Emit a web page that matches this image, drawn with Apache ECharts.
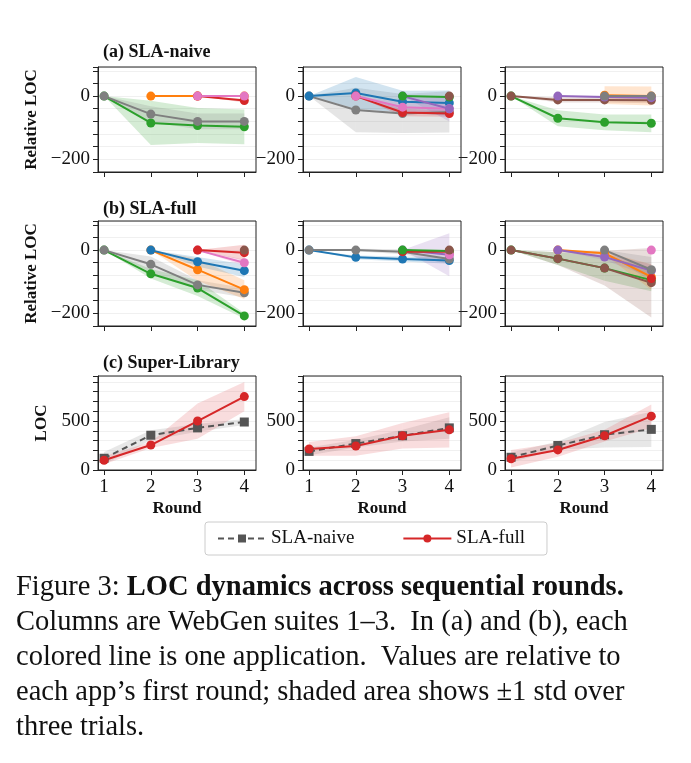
<!DOCTYPE html>
<html><head><meta charset="utf-8">
<script src="https://cdn.jsdelivr.net/npm/echarts@6/dist/echarts.min.js"></script>
<style>html,body{margin:0;padding:0;background:#fff}#c{width:691px;height:763px}</style>
</head><body><div id="c"></div>
<script>
const rounds = [1, 2, 3, 4];
const colors = {blue:'#1f77b4',orange:'#ff7f0e',green:'#2ca02c',red:'#d62728',purple:'#9467bd',brown:'#8c564b',pink:'#e377c2',gray:'#7f7f7f'};
const relTicks = [0, -200];
const locTicks = [0, 500];
// [color, means, sds]  (null = app not present yet)
const a1 = [
 ['green',[0,-85,-93,-97],[0,70,55,55]],
 ['gray',[0,-57,-80,-80],[0,25,25,25]],
 ['orange',[null,0,0,0],[null,0,0,0]],
 ['red',[null,null,0,-14],[null,null,0,6]],
 ['pink',[null,null,0,0],[null,null,0,0]]];
const a2 = [
 ['gray',[0,-44,-55,-50],[0,70,62,65]],
 ['blue',[0,10,-18,-22],[0,50,35,40]],
 ['red',[null,0,-52,-55],[null,0,12,10]],
 ['pink',[null,0,-35,-40],[null,0,15,15]],
 ['purple',[null,null,0,-40],[null,null,0,40]],
 ['green',[null,null,0,-3],[null,null,0,3]],
 ['brown',[null,null,null,0],[null,null,null,0]]];
const a3 = [
 ['green',[0,-70,-83,-86],[0,25,25,28]],
 ['brown',[0,-12,-12,-13],[0,8,8,10]],
 ['orange',[null,null,3,0],[null,null,28,30]],
 ['purple',[null,0,-3,-5],[null,0,4,4]],
 ['gray',[null,null,0,0],[null,null,0,0]]];
const b1 = [
 ['green',[0,-75,-120,-208],[0,15,25,8]],
 ['gray',[0,-45,-110,-135],[0,25,15,15]],
 ['orange',[null,0,-62,-125],[null,0,35,30]],
 ['blue',[null,0,-37,-65],[null,0,15,20]],
 ['pink',[null,null,0,-40],[null,null,0,10]],
 ['red',[null,null,0,-8],[null,null,0,25]],
 ['brown',[null,null,null,0],[null,null,null,0]]];
const b2 = [
 ['blue',[0,-23,-28,-33],[0,6,8,10]],
 ['gray',[0,0,-5,-28],[0,4,8,15]],
 ['purple',[null,null,0,-15],[null,null,0,68]],
 ['red',[null,null,-5,-5],[null,null,4,5]],
 ['green',[null,null,0,-3],[null,null,0,3]],
 ['pink',[null,null,null,-15],[null,null,null,8]],
 ['brown',[null,null,null,0],[null,null,null,0]]];
const b3 = [
 ['green',[0,-27,-57,-95],[0,20,40,35]],
 ['brown',[0,-27,-57,-103],[0,20,55,110]],
 ['orange',[null,0,-10,-85],[null,0,5,40]],
 ['purple',[null,0,-22,-65],[null,0,10,20]],
 ['red',[null,null,null,-90],[null,null,null,15]],
 ['gray',[null,null,0,-62],[null,null,0,40]],
 ['pink',[null,null,null,0],[null,null,null,0]]];
const c1 = [['naive',[120,355,430,490],[65,50,40,30]],['full',[100,255,500,750],[40,30,180,150]]];
const c2 = [['naive',[190,270,350,430],[40,40,60,110]],['full',[215,245,350,410],[70,100,130,180]]];
const c3 = [['naive',[130,250,360,415],[50,40,130,180]],['full',[115,205,350,550],[90,70,60,120]]];
const panels = [a1,a2,a3,b1,b2,b3,c1,c2,c3];

const colLeft = [98, 303, 505];
const rowTop = [67, 221, 376];
const rowH = [105, 105, 94];
const serif = 'Liberation Serif';
const grid = [], xAxis = [], yAxis = [], series = [];
panels.forEach((p, i) => {
  const r = Math.floor(i/3), c = i%3;
  const isC = r===2;
  grid.push({left: colLeft[c], top: rowTop[r], width: 158, height: rowH[r]});
  xAxis.push({type:'value', gridIndex:i, min:0.87, max:4.25,
    axisLine:{show:true,onZero:false,lineStyle:{color:'#222'}}, axisTick:{show:true,length:5,lineStyle:{color:'#222'},customValues:rounds},
    axisLabel:{show:isC,fontFamily:serif,fontSize:19,color:'#111',customValues:rounds},
    splitLine:{show:false},
    name: isC?'Round':'', nameLocation:'middle', nameGap:30, nameTextStyle:{fontFamily:serif,fontWeight:'bold',fontSize:17,color:'#111'}});
  yAxis.push({type:'value', gridIndex:i, min:isC?0:-240, max:isC?960:92, interval:isC?100:40,
    axisLine:{show:true,lineStyle:{color:'#222'}}, axisTick:{show:true,length:5,lineStyle:{color:'#222'}},
    axisLabel:{fontFamily:serif,fontSize:19,color:'#111',customValues:isC?locTicks:relTicks,formatter:v=>String(v).replace('-','\u2212')},
    splitLine:{show:true,lineStyle:{color:'#f0f0f0'}},
    name: c===0?(isC?'LOC':'Relative LOC'):'', nameLocation:'middle', nameGap:isC?48:58,
    nameTextStyle:{fontFamily:serif,fontWeight:'bold',fontSize:17,color:'#111'}});
  p.forEach((s, k) => {
    const key = s[0], m = s[1], sd = s[2];
    let col, name, sym, dash, lineCol;
    if (isC) {
      col = key==='naive' ? '#888888' : '#e0555c';
      lineCol = key==='naive' ? '#555555' : '#d62728';
      name = key==='naive' ? 'SLA-naive' : 'SLA-full';
      sym = key==='naive' ? 'rect' : 'circle'; dash = key==='naive' ? [6,4] : 'solid';
    } else { col = colors[key]; lineCol = col; name = key+i; sym='circle'; dash='solid'; }
    const bandData = rounds.map((x,j)=>[x, m[j]==null?NaN:m[j]-sd[j], m[j]==null?NaN:m[j]+sd[j]]);
    series.push({type:'custom', xAxisIndex:i, yAxisIndex:i, silent:true, z:1, clip:true,
      data: bandData,
      renderItem: (params, api) => {
        const j = params.dataIndex;
        if (j >= bandData.length-1) return;
        const a = bandData[j], b = bandData[j+1];
        if (isNaN(a[1]) || isNaN(b[1])) return;
        const pts = [api.coord([a[0],a[1]]), api.coord([b[0],b[1]]), api.coord([b[0],b[2]]), api.coord([a[0],a[2]])];
        return {type:'polygon', shape:{points:pts}, style:{fill:col, opacity:0.2}};
      }});
    series.push({type:'line', name, xAxisIndex:i, yAxisIndex:i, symbol:sym, symbolSize:9,
      lineStyle:{color:lineCol,width:2,type:dash}, itemStyle:{color:lineCol},
      data: rounds.map((x,j)=>[x, m[j]]), z:5});
  });
});
const graphic = [];
panels.forEach((p,i)=>{const r=Math.floor(i/3),c=i%3;
  graphic.push({type:'rect',shape:{x:colLeft[c],y:rowTop[r],width:158,height:rowH[r]},style:{fill:'none',stroke:'#222',lineWidth:1},silent:true,z:100});});
const titles = [['(a) SLA-naive',53],['(b) SLA-full',210],['(c) Super-Library',364]];
titles.forEach(t=>graphic.push({type:'text',left:103,top:t[1]-10,style:{text:t[0],font:'bold 18px "Liberation Serif"',fill:'#111'}}));
const cap = [
 [{t:'Figure 3: ',b:false},{t:'LOC dynamics across sequential rounds.',b:true}],
 [{t:'Columns are WebGen suites 1\u20133.  In (a) and (b), each'}],
 [{t:'colored line is one application.  Values are relative to'}],
 [{t:'each app\u2019s first round; shaded area shows \u00b11 std over'}],
 [{t:'three trials.'}]];
cap.forEach((line,li)=>{
  graphic.push({type:'text',left:16,top:573+li*35,style:{
    text: line.map(s=>s.b?'{b|'+s.t+'}':'{n|'+s.t+'}').join(''),
    rich:{n:{font:'28.5px "Liberation Serif"',fill:'#111'},b:{font:'bold 28.5px "Liberation Serif"',fill:'#111'}}}});
});
const chart = echarts.init(document.getElementById('c'));
chart.setOption({animation:false, grid, xAxis, yAxis, series, graphic,
  legend:{data:['SLA-naive','SLA-full'], left:205, top:522, width:333, height:36, padding:[7,22,7,12], itemGap:48, itemWidth:48, itemHeight:10,
    borderColor:'#ccc', borderWidth:1, borderRadius:3, textStyle:{fontFamily:serif,fontSize:19,color:'#111'}}});
</script></body></html>
